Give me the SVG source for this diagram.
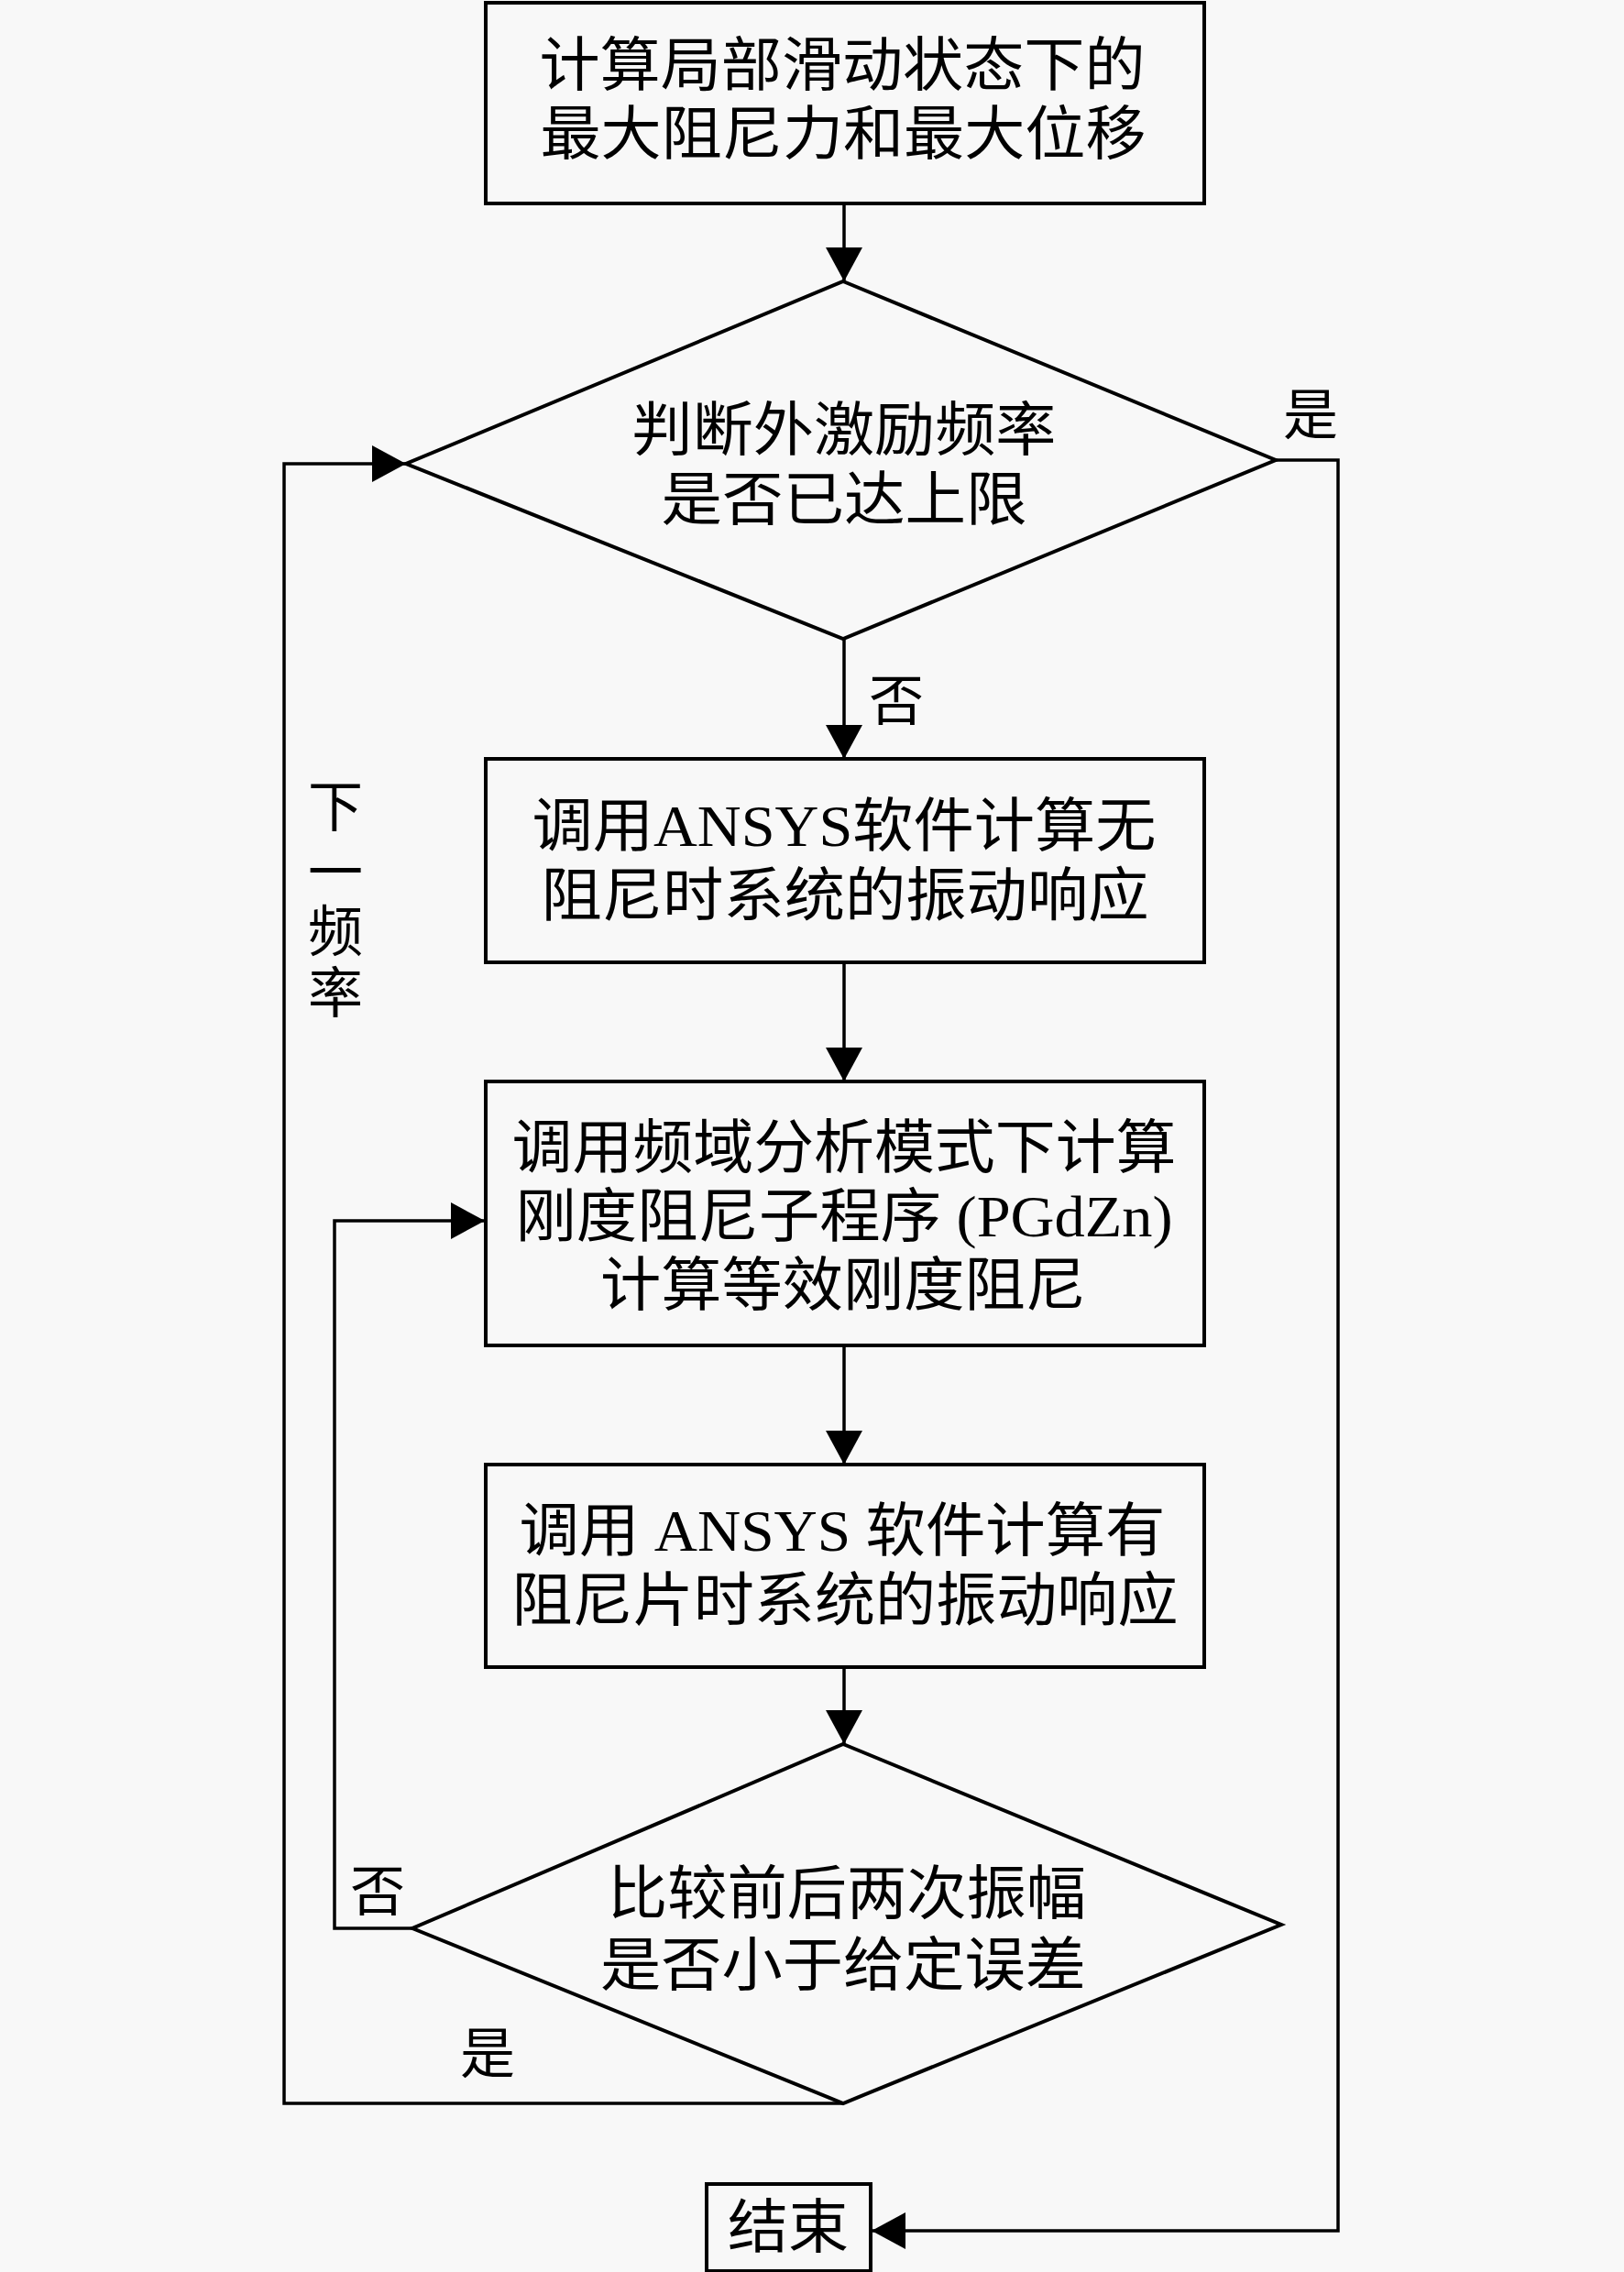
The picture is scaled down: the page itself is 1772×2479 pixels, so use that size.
<svg xmlns="http://www.w3.org/2000/svg" width="1772" height="2479" viewBox="0 0 1772 2479">
<defs>
<style>
.box{fill:#f8f8f8;stroke:#000;stroke-width:4}
.ln{fill:none;stroke:#000;stroke-width:3.5}
.t{font-family:"Liberation Serif","Noto Sans CJK SC",serif;font-size:64px;fill:#000;text-anchor:middle;dominant-baseline:central}
.lb{font-family:"Liberation Serif","Noto Sans CJK SC",serif;font-size:60px;fill:#000;text-anchor:middle;dominant-baseline:central}
</style>
<marker id="ah" markerUnits="userSpaceOnUse" markerWidth="37" markerHeight="40" refX="37" refY="20" orient="auto">
<path d="M0,0 L37,20 L0,40 Z" fill="#000"/>
</marker>
</defs>
<rect x="0" y="0" width="1772" height="2479" fill="#f8f8f8"/>

<g id="connectors">
<line class="ln" x1="921" y1="222" x2="921" y2="307" marker-end="url(#ah)"/>
<line class="ln" x1="921" y1="697" x2="921" y2="828" marker-end="url(#ah)"/>
<line class="ln" x1="921" y1="1050" x2="921" y2="1180" marker-end="url(#ah)"/>
<line class="ln" x1="921" y1="1468" x2="921" y2="1598" marker-end="url(#ah)"/>
<line class="ln" x1="921" y1="1819" x2="921" y2="1903" marker-end="url(#ah)"/>
<polyline class="ln" points="450,2104 365,2104 365,1332 529,1332" marker-end="url(#ah)"/>
<polyline class="ln" points="921,2295 310,2295 310,506 443,506" marker-end="url(#ah)"/>
<polyline class="ln" points="1392,502 1460,502 1460,2434 951,2434" marker-end="url(#ah)"/>
<text class="lb" x="978" y="766">否</text>
<text class="lb" x="1430" y="454">是</text>
<text class="lb" x="412" y="2065">否</text>
<text class="lb" x="532" y="2242">是</text>
<text class="lb" x="366" y="882">下</text>
<text class="lb" x="366" y="953">一</text>
<text class="lb" x="366" y="1018">频</text>
<text class="lb" x="366" y="1085">率</text>
</g>

<g id="node-start">
<rect class="box" x="530" y="3" width="784" height="219"/>
<text class="t" x="919" y="71" textLength="661" lengthAdjust="spacingAndGlyphs">计算局部滑动状态下的</text>
<text class="t" x="920" y="146" textLength="661" lengthAdjust="spacingAndGlyphs">最大阻尼力和最大位移</text>
</g>

<g id="node-decision1">
<polygon class="box" points="920,307 1392,502 920,697 443,506"/>
<text class="t" x="921" y="469" textLength="463" lengthAdjust="spacingAndGlyphs">判断外激励频率</text>
<text class="t" x="921" y="545" textLength="399" lengthAdjust="spacingAndGlyphs">是否已达上限</text>
</g>

<g id="node-ansys1">
<rect class="box" x="530" y="828" width="784" height="222"/>
<text class="t" x="921" y="901" textLength="681" lengthAdjust="spacingAndGlyphs">调用ANSYS软件计算无</text>
<text class="t" x="922" y="977" textLength="663" lengthAdjust="spacingAndGlyphs">阻尼时系统的振动响应</text>
</g>

<g id="node-pgdzn">
<rect class="box" x="530" y="1180" width="784" height="288"/>
<text class="t" x="921" y="1252" textLength="725" lengthAdjust="spacingAndGlyphs">调用频域分析模式下计算</text>
<text class="t" x="921" y="1327" textLength="717" lengthAdjust="spacingAndGlyphs">刚度阻尼子程序 (PGdZn)</text>
<text class="t" x="920" y="1402" textLength="530" lengthAdjust="spacingAndGlyphs">计算等效刚度阻尼</text>
</g>

<g id="node-ansys2">
<rect class="box" x="530" y="1598" width="784" height="221"/>
<text class="t" x="919" y="1670" textLength="705" lengthAdjust="spacingAndGlyphs">调用 ANSYS 软件计算有</text>
<text class="t" x="922" y="1746" textLength="727" lengthAdjust="spacingAndGlyphs">阻尼片时系统的振动响应</text>
</g>

<g id="node-decision2">
<polygon class="box" points="920,1903 1398,2100 920,2295 450,2104"/>
<text class="t" x="924" y="2066" textLength="522" lengthAdjust="spacingAndGlyphs">比较前后两次振幅</text>
<text class="t" x="920" y="2144" textLength="530" lengthAdjust="spacingAndGlyphs">是否小于给定误差</text>
</g>

<g id="node-end">
<rect class="box" x="771" y="2383" width="179" height="95"/>
<text class="t" x="860" y="2430" textLength="132" lengthAdjust="spacingAndGlyphs">结束</text>
</g>
</svg>
